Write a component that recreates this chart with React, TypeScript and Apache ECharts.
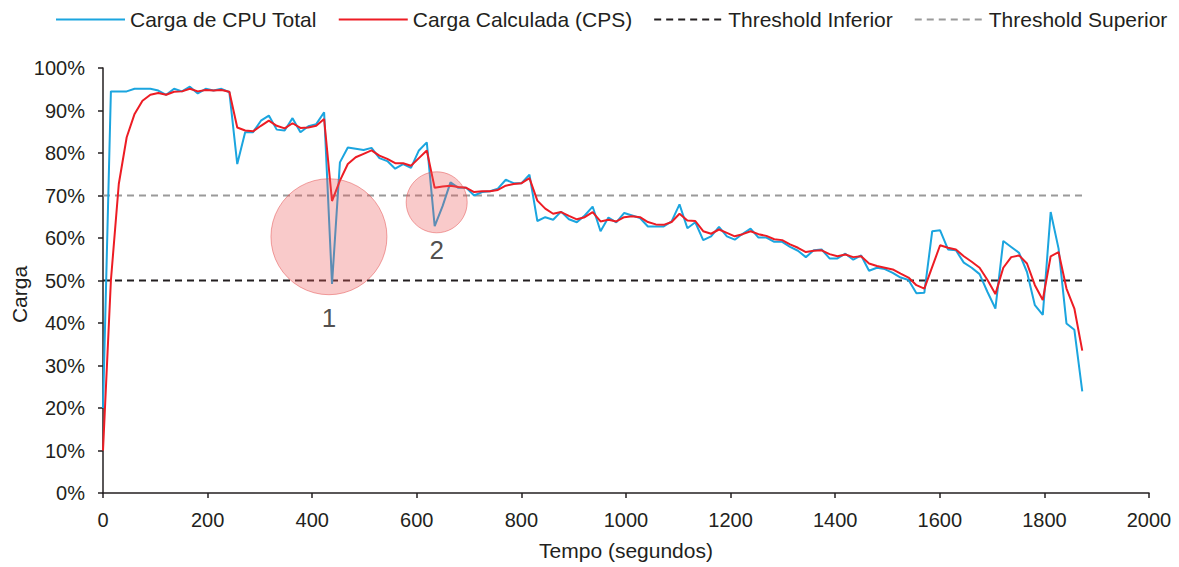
import React, { useEffect, useRef } from "react";
import * as echarts from "echarts";

// Sampling interval of the measurements (seconds)
const SAMPLE_INTERVAL = 15.1;

// Carga de CPU Total (%)
const cpuTotal = [
  20, 94.5, 94.5, 94.5, 95.1, 95.1, 95.1, 94.7, 93.7, 95.1,
  94.5, 95.6, 94.0, 95.1, 94.7, 95.1, 94.3, 77.4, 84.9, 84.9,
  87.6, 88.8, 85.5, 85.3, 88.2, 84.9, 86.3, 86.8, 89.6, 49.2,
  77.8, 81.3, 81.0, 80.7, 81.2, 78.8, 78.1, 76.3, 77.4, 76.5,
  80.6, 82.5, 62.8, 67.5, 73.1, 71.8, 71.8, 70.0, 70.8, 71.0,
  71.6, 73.7, 72.9, 72.9, 74.9, 64.0, 64.9, 64.3, 66.2, 64.4,
  63.7, 65.3, 67.4, 61.6, 64.8, 63.7, 65.9, 65.3, 64.7, 62.7,
  62.7, 62.7, 63.9, 67.9, 62.3, 63.7, 59.5, 60.4, 62.6, 60.4,
  59.6, 61.0, 62.2, 60.1, 60.1, 59.1, 59.1, 57.9, 57.0, 55.5,
  57.1, 57.3, 55.2, 55.2, 56.3, 54.9, 55.9, 52.3, 53.0, 52.7,
  51.8, 50.7, 50.1, 47.0, 47.1, 61.6, 61.8, 57.3, 57.1, 54.2,
  53.0, 51.5, 47.3, 43.4, 59.3, 57.9, 56.5, 52.0, 44.2, 41.9,
  66.1, 57.5, 39.9, 38.4, 23.9,
];

// Carga Calculada (CPS) (%)
const cpsLoad = [
  10, 50, 72.7, 83.7, 89.2, 92.3, 93.7, 94.1, 93.7, 94.4,
  94.5, 95.1, 94.5, 94.8, 94.7, 94.8, 94.4, 86.0, 85.3, 85.1,
  86.4, 87.6, 86.4, 85.8, 87.0, 85.9, 86.0, 86.4, 88.0, 68.7,
  73.5, 77.4, 79.0, 79.8, 80.6, 79.4, 78.6, 77.6, 77.6, 77.0,
  78.8, 80.6, 71.8, 72.1, 72.3, 72.0, 71.8, 70.8, 71.0, 71.0,
  71.3, 72.3, 72.7, 72.9, 74.1, 68.8, 66.9, 65.7, 66.1, 65.2,
  64.4, 64.9, 66.1, 63.9, 64.3, 63.9, 64.9, 65.1, 64.9, 63.75,
  63.2, 63.1, 63.75, 65.7, 64.1, 64.0, 61.6, 61.0, 62.0, 61.2,
  60.4, 60.9, 61.6, 60.9, 60.5, 59.7, 59.5, 58.5, 57.7, 56.7,
  57.0, 57.1, 56.2, 55.7, 56.1, 55.5, 55.7, 54.0, 53.4, 53.0,
  52.6, 51.6, 50.7, 48.9, 48.1, 53.2, 58.3, 57.7, 57.3, 55.7,
  54.4, 53.0, 50.1, 46.8, 53.0, 55.5, 55.9, 54.0, 48.9, 45.4,
  55.7, 56.7, 48.1, 43.4, 33.5,
];

const thresholdInferior = 50;
const thresholdSuperior = 70;

// Highlighted regions: [tempo, carga, label]
const highlightPoints: [number, number, string][] = [
  [432, 60.3, "1"],
  [638, 68.4, "2"],
];
const highlightSizes = [116, 61];
const highlightLabelGaps = [10, 4];

const xTicks = { min: 0, max: 2000, interval: 200 };
const yTicks = { min: 0, max: 100, interval: 10 };

const FONT = "'Liberation Sans', Arial, Helvetica, sans-serif";
const TEXT = "#231f20";

export default function App() {
  const ref = useRef<HTMLDivElement>(null);
  useEffect(() => {
    if (!ref.current) return;
    const chart = echarts.init(ref.current, undefined, { renderer: "svg" });
    const times = cpuTotal.map((_, i) => i * SAMPLE_INTERVAL);
    const lastT = times[times.length - 1];
    const tickFont = 20;
    const titleFont = 21;
    chart.setOption({
      animation: false,
      textStyle: { fontFamily: FONT, color: TEXT },
      legend: {
        top: 4,
        left: 50,
        itemWidth: 69,
        itemHeight: 14,
        itemGap: 21,
        itemStyle: { opacity: 0 },
        textStyle: { fontFamily: FONT, fontSize: titleFont, color: TEXT },
        data: ["Carga de CPU Total", "Carga Calculada (CPS)", "Threshold Inferior", "Threshold Superior"],
      },
      grid: { left: 103, right: 30, top: 68, bottom: 74, outerBoundsMode: "none", containLabel: false },
      xAxis: {
        type: "value",
        min: xTicks.min,
        max: xTicks.max,
        interval: xTicks.interval,
        name: "Tempo (segundos)",
        nameLocation: "middle",
        nameGap: 47,
        nameMoveOverlap: false,
        nameTextStyle: { fontFamily: FONT, fontSize: titleFont, color: TEXT },
        axisLine: { lineStyle: { color: "#231f20", width: 1.5 } },
        axisTick: { show: true, length: 5, lineStyle: { color: "#231f20", width: 1.5 } },
        axisLabel: {
          fontFamily: FONT,
          fontSize: tickFont,
          color: TEXT,
          margin: 17,
          formatter: (v: number) => String(v),
        },
        splitLine: { show: false },
      },
      yAxis: {
        type: "value",
        min: yTicks.min,
        max: yTicks.max,
        interval: yTicks.interval,
        name: "Carga",
        nameLocation: "middle",
        nameGap: 73,
        nameRotate: 90,
        nameMoveOverlap: false,
        nameTextStyle: { fontFamily: FONT, fontSize: titleFont, color: TEXT, padding: [0, 28, 0, 0] },
        axisLine: { show: true, lineStyle: { color: "#231f20", width: 1.5 } },
        axisTick: { show: true, length: 5, lineStyle: { color: "#231f20", width: 1.5 } },
        axisLabel: { fontFamily: FONT, fontSize: tickFont, color: TEXT, margin: 18, formatter: "{value}%" },
        splitLine: { show: false },
      },
      series: [
        {
          name: "Carga de CPU Total",
          type: "line",
          data: times.map((t, i) => [t, cpuTotal[i]]),
          symbol: "none",
          lineStyle: { color: "#1BA5DF", width: 2 },
          itemStyle: { color: "#1BA5DF" },
          z: 2,
        },
        {
          name: "Carga Calculada (CPS)",
          type: "line",
          data: times.map((t, i) => [t, cpsLoad[i]]),
          symbol: "none",
          lineStyle: { color: "#ED1C24", width: 2 },
          itemStyle: { color: "#ED1C24" },
          z: 3,
        },
        {
          name: "Threshold Inferior",
          type: "line",
          data: [[0, thresholdInferior], [lastT, thresholdInferior]],
          symbol: "none",
          lineStyle: { color: "#231f20", width: 2, type: [7, 5] },
          itemStyle: { color: "#231f20" },
          z: 1,
        },
        {
          name: "Threshold Superior",
          type: "line",
          data: [[0, thresholdSuperior], [lastT, thresholdSuperior]],
          symbol: "none",
          lineStyle: { color: "#9a9a9a", width: 2, type: [7, 5] },
          itemStyle: { color: "#9a9a9a" },
          z: 1,
        },
        {
          name: "highlights",
          type: "scatter",
          z: 5,
          silent: true,
          data: highlightPoints.map((p, i) => ({
            value: [p[0], p[1]],
            name: p[2],
            symbolSize: highlightSizes[i],
            label: { distance: highlightLabelGaps[i] },
          })),
          itemStyle: {
            color: "rgba(235, 90, 90, 0.4)",
            borderColor: "rgba(225, 70, 70, 0.6)",
            borderWidth: 1,
          },
          label: {
            show: true,
            position: "bottom",
            formatter: "{b}",
            fontFamily: FONT,
            fontSize: 26,
            color: TEXT,
          },
        },
      ],
    });
    return () => chart.dispose();
  }, []);
  return (
    <div
      ref={ref}
      style={{ position: "fixed", left: 0, top: 0, width: 1179, height: 567, background: "#fff" }}
    />
  );
}
